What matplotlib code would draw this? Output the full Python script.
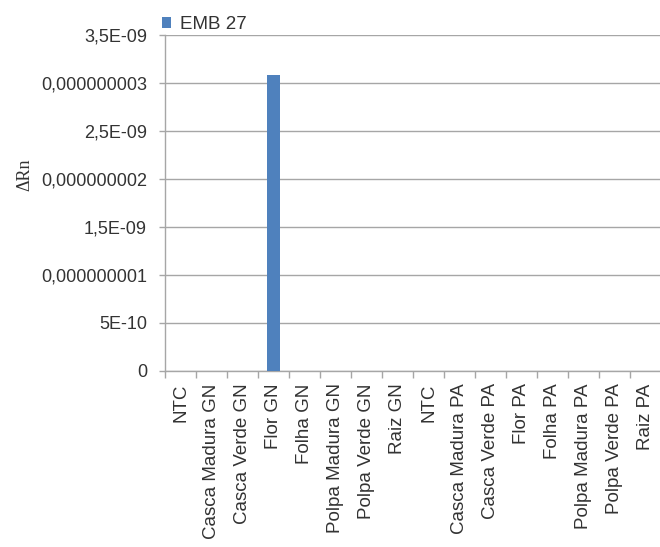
import matplotlib.pyplot as plt
from matplotlib.ticker import FixedLocator, FixedFormatter

categories = ["NTC", "Casca Madura GN", "Casca Verde GN", "Flor GN", "Folha GN",
              "Polpa Madura GN", "Polpa Verde GN", "Raiz GN",
              "NTC", "Casca Madura PA", "Casca Verde PA", "Flor PA", "Folha PA",
              "Polpa Madura PA", "Polpa Verde PA", "Raiz PA"]
emb27 = [0, 0, 0, 3.08e-9, 0, 0, 0, 0, 0, 0, 0, 0, 0, 0, 0, 0]

y_ticks = [0, 5e-10, 1e-9, 1.5e-9, 2e-9, 2.5e-9, 3e-9, 3.5e-9]
y_tick_labels = ["0", "5E-10", "0,000000001", "1,5E-09", "0,000000002",
                 "2,5E-09", "0,000000003", "3,5E-09"]

plt.rcParams['font.family'] = ['Liberation Sans', 'DejaVu Sans']
text_color = "#333333"
grid_color = "#a6a6a6"

fig = plt.figure(figsize=(6.6, 5.47), dpi=100)
ax = fig.add_axes([0.25, 0.322, 0.752, 0.614])

x = list(range(len(categories)))
ax.bar(x, emb27, width=0.42, color="#4f81bd", label="EMB 27", zorder=3)

ax.set_xlim(-0.5, len(categories) - 0.5)
ax.set_ylim(0, 3.5e-9)

ax.yaxis.set_major_locator(FixedLocator(y_ticks))
ax.yaxis.set_major_formatter(FixedFormatter(y_tick_labels))
ax.grid(axis="y", color=grid_color, linewidth=1, zorder=0)

ax.set_xticks(x)
ax.set_xticklabels(categories, rotation=90, fontsize=13.5, color=text_color)
ax.set_xticks([i - 0.5 for i in range(len(categories) + 1)], minor=True)
ax.tick_params(axis="x", which="major", length=0, pad=9)
ax.tick_params(axis="x", which="minor", length=5, color=grid_color, width=1)
ax.tick_params(axis="y", length=4, color=grid_color, width=1, pad=9,
               labelsize=13, labelcolor=text_color)

for side in ["top", "right"]:
    ax.spines[side].set_visible(False)
for side in ["left", "bottom"]:
    ax.spines[side].set_color(grid_color)
    ax.spines[side].set_linewidth(1)

ax.set_ylabel("ΔRn", family=["Liberation Serif", "DejaVu Serif"], fontsize=13,
              color=text_color)
ax.yaxis.set_label_coords(-0.265, 0.585)

ax.legend(loc="lower left", bbox_to_anchor=(-0.01, 1.0), frameon=False,
          handlelength=0.5, handleheight=0.5, handletextpad=0.45,
          borderaxespad=0, borderpad=0.1, fontsize=13.5, labelcolor=text_color)

fig.savefig("out.png", dpi=100)
